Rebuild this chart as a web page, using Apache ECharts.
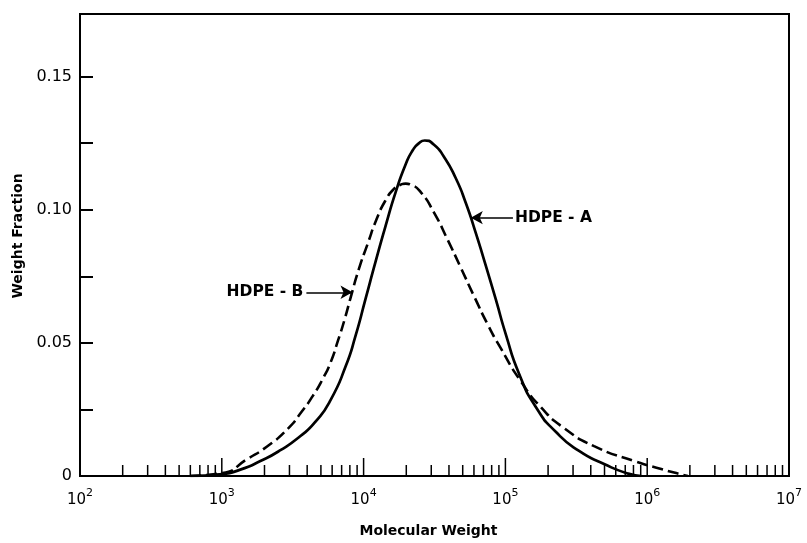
<!DOCTYPE html>
<html><head><meta charset="utf-8">
<script src="https://cdn.jsdelivr.net/npm/echarts@6/dist/echarts.min.js"></script>
<style>html,body{margin:0;padding:0;background:#fff}#c{width:807px;height:543px}</style>
</head><body><div id="c"></div>
<script>
// HDPE-A (solid)
const hdpeAMolWeight = [600, 1008, 1351, 1871, 2591, 3588, 4580, 5846, 7461, 8780, 10330, 12160, 14310, 16830, 19810, 22190, 24470, 26990, 31240, 36760, 44690, 52590, 61870, 72820, 85680, 100800, 124600, 164300, 227500, 330700, 496700, 734100, 908000];
const hdpeAFraction = [0, 0.00075, 0.0024, 0.0056, 0.0097, 0.0150, 0.0204, 0.0285, 0.0411, 0.0527, 0.0666, 0.0806, 0.0940, 0.1066, 0.1171, 0.1223, 0.1249, 0.1260, 0.1245, 0.1200, 0.1118, 0.1025, 0.0912, 0.0789, 0.0662, 0.0531, 0.0385, 0.0258, 0.0165, 0.0094, 0.0045, 0.0009, 0];
// HDPE-B (dashed)
const hdpeBMolWeight = [600, 1008, 1514, 2097, 2904, 3677, 4362, 5131, 5846, 6604, 7339, 8092, 9219, 10670, 12360, 14310, 16290, 18260, 19810, 21480, 25280, 31240, 39240, 48480, 60880, 75210, 92930, 128700, 178200, 259000, 422100, 809400, 1256000, 1603000, 1930000];
const hdpeBFraction = [0, 0.0011, 0.0064, 0.0112, 0.0176, 0.0243, 0.0299, 0.0363, 0.0426, 0.0509, 0.0587, 0.0669, 0.0774, 0.0871, 0.0965, 0.1036, 0.1077, 0.1094, 0.1098, 0.1094, 0.1066, 0.0991, 0.0886, 0.0782, 0.0669, 0.0568, 0.0479, 0.0355, 0.0258, 0.0180, 0.0112, 0.0056, 0.0026, 0.0011, 0];
// x-axis tick values (log axis, 2..9 per decade and decades)
const decades = [100, 1000, 10000, 100000, 1000000];
const tickMultipliers = [1, 2, 3, 4, 5, 6, 7, 8, 9];
const xTickValues = [];
decades.forEach(d => tickMultipliers.forEach(m => { const v = d * m; if (v > 100) xTickValues.push(v); }));
// annotations
const labelA = 'HDPE - A';
const labelB = 'HDPE - B';
const arrowA = { from: [113000, 0.097], to: [57000, 0.097] };
const arrowB = { from: [3950, 0.069], to: [8350, 0.069] };

const FONT = 'DejaVu Sans';
const chart = echarts.init(document.getElementById('c'));
const pair = (xs, ys) => xs.map((x, i) => [x, ys[i]]);

chart.setOption({
  animation: false,
  backgroundColor: '#fff',
  grid: { left: 80, right: 18, top: 14, bottom: 66, show: true, borderColor: '#000', borderWidth: 2 },
  xAxis: {
    type: 'log', logBase: 10, min: 100, max: 10000000,
    name: 'Molecular Weight', nameLocation: 'middle', nameGap: 48,
    nameTextStyle: { fontFamily: FONT, fontWeight: 'bold', fontSize: 14, color: '#000', padding: [0, 12, 0, 0] },
    axisLine: { lineStyle: { color: '#000', width: 2 } },
    axisTick: { show: false },
    splitLine: { show: false },
    axisLabel: {
      margin: 12, color: '#000',
      formatter: v => '{b|10}{s|' + Math.round(Math.log10(v)) + '}',
      rich: {
        b: { fontFamily: FONT, fontSize: 15, color: '#000', verticalAlign: 'bottom', lineHeight: 20 },
        s: { fontFamily: FONT, fontSize: 11, color: '#000', verticalAlign: 'top', lineHeight: 20 }
      }
    }
  },
  yAxis: {
    type: 'value', min: 0, max: 0.1735, interval: 0.025,
    name: 'Weight Fraction', nameLocation: 'middle', nameGap: 54, nameRotate: 90,
    nameTextStyle: { fontFamily: FONT, fontWeight: 'bold', fontSize: 14, color: '#000', padding: [0, 0, 0, 18] },
    axisLine: { lineStyle: { color: '#000', width: 2 } },
    axisTick: { inside: true, length: 13, lineStyle: { color: '#000', width: 2 } },
    splitLine: { show: false },
    axisLabel: {
      margin: 8, color: '#000', fontFamily: FONT, fontSize: 16,
      formatter: v => {
        const k = v * 20;
        if (Math.abs(k - Math.round(k)) > 1e-6 || v > 0.151) return '';
        return v === 0 ? '0' : v.toFixed(2);
      }
    }
  },
  series: [
    {
      type: 'custom', name: 'ticks', silent: true, z: 5,
      data: xTickValues.map(v => [v, 0]),
      renderItem: (params, api) => {
        const v = api.value(0);
        const p = api.coord([v, 0]);
        const lg = Math.log10(v);
        const major = Math.abs(lg - Math.round(lg)) < 1e-9;
        const len = major ? 18 : 11;
        return { type: 'line', shape: { x1: p[0], y1: p[1], x2: p[0], y2: p[1] - len }, style: { stroke: '#000', lineWidth: 1.5 } };
      }
    },
    {
      type: 'line', name: labelA, data: pair(hdpeAMolWeight, hdpeAFraction),
      smooth: 0.6, showSymbol: false, symbol: 'none',
      lineStyle: { color: '#000', width: 2.7 },
      markLine: {
        silent: true, symbol: ['none', 'arrow'], symbolSize: [10, 12],
        lineStyle: { color: '#000', width: 1.5, type: 'solid' },
        label: { show: false },
        data: [[{ coord: arrowA.from }, { coord: arrowA.to }]]
      },
      markPoint: {
        silent: true, symbol: 'circle', symbolSize: 0,
        label: { show: true, position: 'right', distance: 2, formatter: labelA, fontFamily: FONT, fontWeight: 'bold', fontSize: 15.5, color: '#000' },
        data: [{ coord: arrowA.from }]
      }
    },
    {
      type: 'line', name: labelB, data: pair(hdpeBMolWeight, hdpeBFraction),
      smooth: 0.6, showSymbol: false, symbol: 'none',
      lineStyle: { color: '#000', width: 2.6, type: [11, 5] },
      markLine: {
        silent: true, symbol: ['none', 'arrow'], symbolSize: [10, 12],
        lineStyle: { color: '#000', width: 1.5, type: 'solid' },
        label: { show: false },
        data: [[{ coord: arrowB.from }, { coord: arrowB.to }]]
      },
      markPoint: {
        silent: true, symbol: 'circle', symbolSize: 0,
        label: { show: true, position: 'left', distance: 3, formatter: labelB, fontFamily: FONT, fontWeight: 'bold', fontSize: 15.5, color: '#000' },
        data: [{ coord: arrowB.from }]
      }
    }
  ]
});
</script>
</body></html>
